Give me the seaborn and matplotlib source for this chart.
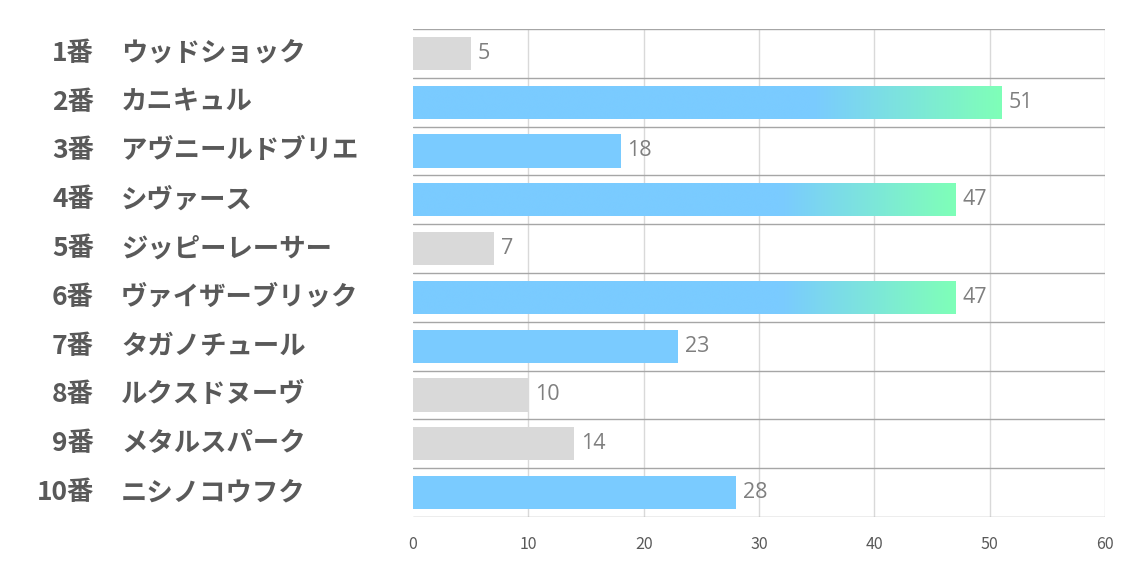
import numpy as np
import pandas as pd
import matplotlib
matplotlib.use("Agg")
import matplotlib.pyplot as plt
import seaborn as sns
from matplotlib.colors import LinearSegmentedColormap
from matplotlib.transforms import blended_transform_factory

numbers = ["1番", "2番", "3番", "4番", "5番", "6番", "7番", "8番", "9番", "10番"]
names = ["ウッドショック", "カニキュル", "アヴニールドブリエ", "シヴァース", "ジッピーレーサー",
         "ヴァイザーブリック", "タガノチュール", "ルクスドヌーヴ", "メタルスパーク", "ニシノコウフク"]
values = [5, 51, 18, 47, 7, 47, 23, 10, 14, 28]
xticks = [0, 10, 20, 30, 40, 50, 60]

sns.set_theme(style="white")
plt.rcParams['font.family'] = ['Noto Sans CJK JP', 'DejaVu Sans']

GRAY = "#D9D9D9"
BLUE = "#7ACBFF"
GREEN = "#7FFFB8"

def tier_color(v):
    if v < 15:
        return GRAY
    return BLUE

df = pd.DataFrame({"row": [str(i) for i in range(len(values))], "value": values})
colors = [tier_color(v) for v in values]

fig = plt.figure(figsize=(11.34, 5.67), dpi=100)
ax = fig.add_axes([413/1134, 1-517/567, (1105-413)/1134, (517-29)/567])

sns.barplot(data=df, x="value", y="row", hue="row", palette=colors, legend=False,
            orient="h", width=0.68, ax=ax, saturation=1, zorder=3)

cmap = LinearSegmentedColormap.from_list("g", [(0, BLUE), (0.68, BLUE), (1.0, GREEN)])
grad = np.linspace(0, 1, 256).reshape(1, -1)
for patch, v in zip(ax.patches, values):
    patch.set_edgecolor("none")
    if v >= 40:
        x0, y0 = patch.get_x(), patch.get_y()
        w, h = patch.get_width(), patch.get_height()
        im = ax.imshow(grad, cmap=cmap, aspect="auto", extent=(x0, x0+w, y0+h, y0),
                       zorder=3.5, interpolation="bicubic")
        im.set_clip_path(patch)

ax.set_ylim(len(values)-0.5, -0.5)
ax.set_xlim(0, 60)

# grid
for xv in xticks[1:]:
    ax.axvline(xv, color="#D9D9D9", lw=1, zorder=1)
for i in range(len(values)+1):
    ax.axhline(i-0.5, color="#A6A6A6", lw=1, zorder=4)
for s in ax.spines.values():
    s.set_visible(False)

ax.set_xticks(xticks)
ax.set_xticklabels([str(t) for t in xticks], color="#595959", fontsize=11.5)
ax.tick_params(axis="x", length=0, pad=14)
ax.set_yticks([])
ax.set_xlabel("")
ax.set_ylabel("")

# value labels
for i, v in enumerate(values):
    ax.annotate(str(v), (v, i), xytext=(5, 0), textcoords="offset points",
                va="center", ha="left", fontsize=15.5, color="#7F7F7F",
                family=["Open Sans", "DejaVu Sans"], zorder=5)

# row labels
trans = blended_transform_factory(fig.transFigure, ax.transData)
for i, (n, nm) in enumerate(zip(numbers, names)):
    ax.text(94/1134, i, n, transform=trans, ha="right", va="center",
            fontsize=19, fontweight="bold", color="#595959")
    ax.text(121/1134, i, nm, transform=trans, ha="left", va="center",
            fontsize=19, fontweight="bold", color="#595959")

fig.savefig("out.png", dpi=100, facecolor="white")
